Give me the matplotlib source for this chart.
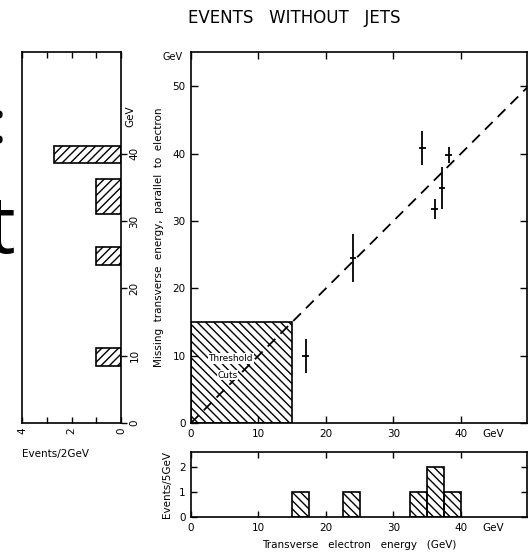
import numpy as np
import matplotlib.pyplot as plt
from matplotlib.patches import Rectangle

# data
ex = [17, 24, 34.3, 36.1, 37.2, 38.2]          # transverse electron energy
miss = [10, 24.5, 40.8, 31.8, 34.9, 39.8]      # missing transverse energy
miss_err = [2.5, 3.6, 2.5, 1.5, 3.1, 1.2]
ex_err = [0.5, 0.5, 0.5, 0.5, 0.5, 0.5]

# bottom histogram (Events/5GeV)
ebin_lo = [15, 22.5, 32.5, 35, 37.5]
ebin_hi = [17.5, 25, 35, 37.5, 40]
ecount = [1, 1, 1, 2, 1]

# left histogram (Events/2GeV)
mbin_lo = [8.5, 23.5, 31.1, 38.6]
mbin_hi = [11.1, 26.2, 36.3, 41.2]
mcount = [1, 1, 1, 2.7]

thr = 15
plt.rcParams['font.family'] = 'DejaVu Sans'

W, H = 528, 556
fig = plt.figure(figsize=(W/100, H/100), dpi=100)

def box(x0, y0, x1, y1):
    return [x0/W, 1-y1/H, (x1-x0)/W, (y1-y0)/H]

ax = fig.add_axes(box(191, 52, 527, 423))
axl = fig.add_axes(box(22, 52, 121, 423))
axb = fig.add_axes(box(191, 452, 527, 517))

def gev_x(a, x):
    a.annotate('GeV', xy=(x, 0), xycoords=a.get_xaxis_transform(), xytext=(0, -4),
               textcoords='offset points', fontsize=7.5, ha='center', va='top')

# ---- main panel
ax.set_xlim(0, 49.8)
ax.set_ylim(0, 55.1)
xx = np.array([0, 49.8])
ax.plot(xx, xx, 'k--', lw=1.3, dashes=(6, 4))
ax.add_patch(Rectangle((0, 0), thr, thr, fill=False, hatch='\\\\\\\\', lw=1.2, ec='k'))
ax.text(5.9, 9.6, 'Threshold', fontsize=6.5, ha='center', va='center',
        bbox=dict(fc='white', ec='none', pad=0.5))
ax.text(5.4, 7.1, 'Cuts', fontsize=6.5, ha='center', va='center',
        bbox=dict(fc='white', ec='none', pad=0.5))
ax.errorbar(ex, miss, yerr=miss_err, xerr=ex_err, fmt='none', ecolor='k', elinewidth=1.3, capsize=0)
ax.set_xticks([0, 10, 20, 30, 40])
ax.set_yticks([0, 10, 20, 30, 40, 50])
ax.tick_params(direction='in', top=True, right=True, length=5, width=1, labelsize=7.5, pad=4)
gev_x(ax, 44.8)
ax.text(-0.055, 54.4, 'GeV', transform=ax.get_yaxis_transform(), fontsize=7, ha='center', va='center')
ax.set_ylabel('Missing  transverse  energy,  parallel  to  electron', fontsize=7.5, labelpad=6)
for s in ax.spines.values():
    s.set_linewidth(1.2)

# ---- bottom histogram
axb.set_xlim(0, 49.8)
axb.set_ylim(0, 2.6)
axb.bar(ebin_lo, ecount, width=np.array(ebin_hi) - np.array(ebin_lo), align='edge',
        fill=False, hatch='\\\\\\\\', ec='k', lw=1.2)
axb.set_xticks([0, 10, 20, 30, 40])
axb.set_yticks([0, 1, 2])
axb.tick_params(direction='in', top=True, right=True, length=4, width=1, labelsize=7.5, pad=4)
gev_x(axb, 44.8)
axb.set_xlabel('Transverse   electron   energy   (GeV)', fontsize=7.5, labelpad=5)
axb.set_ylabel('Events/5GeV', fontsize=7.5, labelpad=5)
for s in axb.spines.values():
    s.set_linewidth(1.2)

# ---- left histogram (rotated)
axl.set_xlim(4, 0)
axl.set_ylim(0, 55.1)
axl.barh(mbin_lo, mcount, height=np.array(mbin_hi) - np.array(mbin_lo), align='edge',
         fill=False, hatch='////', ec='k', lw=1.2)
axl.set_xticks([0, 2, 4])
axl.set_xticks([1, 3], minor=True)
axl.set_yticks([0, 10, 20, 30, 40])
axl.yaxis.tick_right()
axl.tick_params(axis='x', which='both', direction='in', top=True, length=4, width=1,
                labelsize=7.5, labelrotation=90)
axl.tick_params(axis='y', direction='out', left=False, length=4, width=1,
                labelsize=7.5, labelrotation=90, pad=2)
for lab in axl.get_yticklabels():
    lab.set_va('center')
axl.text(1.04, 45.5, 'GeV', transform=axl.get_yaxis_transform(), fontsize=7.5,
         rotation=90, ha='left', va='center')
axl.text(0.0, -0.07, 'Events/2GeV', transform=axl.transAxes, fontsize=7.5, ha='left', va='top')
for s in axl.spines.values():
    s.set_linewidth(1.2)

# title
fig.text(294/W, 1-18/H, 'EVENTS   WITHOUT   JETS', fontsize=12, ha='center', va='center')

# cut-off slide text at the far left
fig.text(7/W, 1-128/H, ':', fontsize=44, ha='right', va='center', family='Open Sans')
fig.text(15/W, 1-253/H, 't', fontsize=58, ha='right', va='baseline', family='Open Sans')

fig.savefig('out.png', dpi=100)
